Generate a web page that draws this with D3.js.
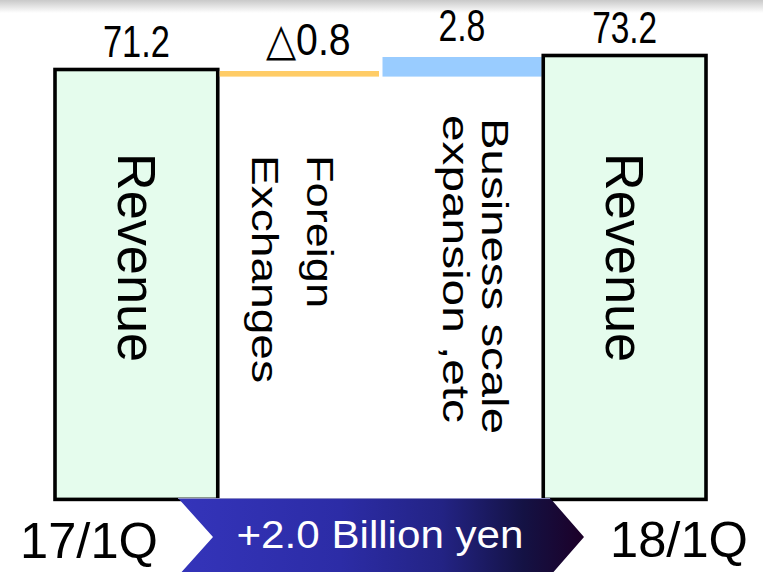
<!DOCTYPE html>
<html>
<head>
<meta charset="utf-8">
<script src="https://cdn.jsdelivr.net/npm/d3@7"></script>
<style>
  html, body { margin: 0; padding: 0; background: #ffffff; }
  svg { display: block; }
</style>
</head>
<body>
<div id="chart"></div>
<script>
// Data (billion yen)
const categories = ["17/1Q", "Foreign Exchanges", "Business scale expansion ,etc", "18/1Q"];
const values = [71.2, -0.8, 2.8, 73.2];
const kinds = ["total", "delta", "delta", "total"];
const valueLabels = ["71.2", "\u25B30.8", "2.8", "73.2"];
const barTexts = [["Revenue"], ["Foreign", "Exchanges"], ["Business scale", "expansion ,etc"], ["Revenue"]];
const periodLabels = ["17/1Q", "18/1Q"];
const changeLabel = "+2.0 Billion yen";
const AXIS_FLOOR = 10; // bars are cut, the axis does not start at zero

const W = 763, H = 572;
const FONT = "'Liberation Sans', Arial, sans-serif";
const NARROW = "'Liberation Sans Narrow', 'Arial Narrow', 'Liberation Sans', sans-serif";

//==========================================
// Waterfall steps
//==========================================
let running = 0;
const steps = values.map((v, i) => {
  let start, end;
  if (kinds[i] === "total") {
    start = AXIS_FLOOR; end = v; running = v;
  } else {
    start = running; end = running + v; running = end;
  }
  return { cat: categories[i], kind: kinds[i], value: v, start, end,
           label: valueLabels[i], lines: barTexts[i] };
});

const svg = d3.select("#chart").append("svg")
  .attr("width", W).attr("height", H);

const defs = svg.append("defs");

// faint shadow along the top edge of the slide
const topShade = defs.append("linearGradient").attr("id", "topShade")
  .attr("x1", 0).attr("y1", 0).attr("x2", 0).attr("y2", 1);
topShade.append("stop").attr("offset", "0%").attr("stop-color", "#c9c9c9");
topShade.append("stop").attr("offset", "100%").attr("stop-color", "#ffffff");
svg.append("rect").attr("x", 0).attr("y", 0).attr("width", W).attr("height", 13)
  .attr("fill", "url(#topShade)");

const x = d3.scaleBand().domain(categories).range([55, 706]).padding(0);
const y = d3.scaleLinear().domain([AXIS_FLOOR, 73.2]).range([499.4, 57]);

//==========================================
// Bars
//==========================================
const deltaFill = v => v < 0 ? "#ffcc66" : "#99ccff";

steps.forEach(d => {
  const top = y(Math.max(d.start, d.end));
  const bot = y(Math.min(d.start, d.end));
  if (d.kind === "total") {
    svg.append("rect")
      .attr("x", x(d.cat)).attr("y", top - 1.5)
      .attr("width", x.bandwidth()).attr("height", bot - top + 1.5)
      .attr("fill", "#e5fced")
      .attr("stroke", "#000000").attr("stroke-width", 3.6);
  } else {
    svg.append("rect")
      .attr("x", x(d.cat) + 2).attr("y", top)
      .attr("width", x.bandwidth() - 3.5).attr("height", bot - top)
      .attr("fill", deltaFill(d.value));
  }
});

// value labels above each bar
const labelLen = { "71.2": 67, "\u25B30.8": 85, "2.8": 47, "73.2": 65 };
steps.forEach(d => {
  const top = y(Math.max(d.start, d.end));
  svg.append("text")
    .attr("x", x(d.cat) + x.bandwidth() / 2 - (d.kind === "delta" && d.value < 0 ? -9 : 0))
    .attr("y", top - (d.kind === "delta" ? 16.5 : 14))
    .attr("text-anchor", "middle")
    .attr("font-family", NARROW)
    .attr("font-size", 45)
    .attr("textLength", labelLen[d.label])
    .attr("lengthAdjust", "spacingAndGlyphs")
    .attr("fill", "#000")
    .text(d.label);
});

//==========================================
// Vertical texts inside / under the bars
//==========================================
function vText(px, py, str, size, len) {
  svg.append("text")
    .attr("transform", `translate(${px},${py}) rotate(90)`)
    .attr("font-family", FONT)
    .attr("font-size", size)
    .attr("textLength", len)
    .attr("lengthAdjust", "spacingAndGlyphs")
    .attr("fill", "#000")
    .text(str);
}

steps.forEach(d => {
  const cx = x(d.cat) + x.bandwidth() / 2;
  if (d.kind === "total") {
    vText(cx - 18.5, 153, d.lines[0], 54, 209);
  } else if (d.value < 0) {
    vText(cx + 8, 155, d.lines[0], 36, 153);
    vText(cx - 47, 155, d.lines[1], 36, 228);
  } else {
    vText(cx + 20, 118, d.lines[0], 36, 316);
    vText(cx - 19, 115, d.lines[1], 36, 308);
  }
});

//==========================================
// Bottom arrow with the total change
//==========================================
const arrowGrad = defs.append("linearGradient").attr("id", "arrowGrad")
  .attr("x1", 0).attr("y1", 0).attr("x2", 1).attr("y2", 0);
[["0%", "#3434ba"], ["40%", "#2c2ca6"], ["65%", "#232384"], ["85%", "#141244"], ["100%", "#1c0028"]]
  .forEach(s => arrowGrad.append("stop").attr("offset", s[0]).attr("stop-color", s[1]));

const aL = 178, aR = 550, aTip = 584, aTop = 498, aBot = 576, aMid = 537, notch = 213;
svg.append("path")
  .attr("d", `M${aL},${aTop} L${aR},${aTop} L${aTip},${aMid} L${aR},${aBot} L${aL},${aBot} L${notch},${aMid} Z`)
  .attr("fill", "url(#arrowGrad)");
svg.append("line")
  .attr("x1", aL).attr("x2", aR).attr("y1", aTop + 0.5).attr("y2", aTop + 0.5)
  .attr("stroke", "#8c8cc4").attr("stroke-width", 1);

svg.append("text")
  .attr("x", 380).attr("y", 548)
  .attr("text-anchor", "middle")
  .attr("font-family", FONT).attr("font-size", 39)
  .attr("textLength", 287).attr("lengthAdjust", "spacingAndGlyphs")
  .attr("fill", "#ffffff")
  .text(changeLabel);

svg.append("text")
  .attr("x", 20).attr("y", 558)
  .attr("font-family", FONT).attr("font-size", 50)
  .attr("textLength", 138).attr("lengthAdjust", "spacingAndGlyphs")
  .attr("fill", "#000")
  .text(periodLabels[0]);

svg.append("text")
  .attr("x", 610).attr("y", 557)
  .attr("font-family", FONT).attr("font-size", 50)
  .attr("textLength", 138).attr("lengthAdjust", "spacingAndGlyphs")
  .attr("fill", "#000")
  .text(periodLabels[1]);
</script>
</body>
</html>
